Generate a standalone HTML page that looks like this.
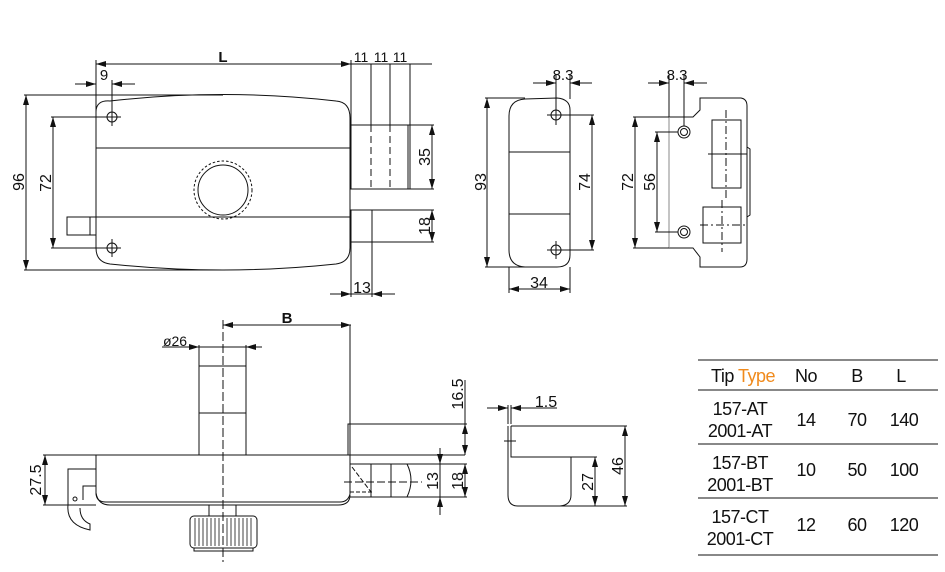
<!DOCTYPE html>
<html><head><meta charset="utf-8"><style>
html,body{margin:0;padding:0;background:#fff;}
svg{display:block;}
text{font-family:"Liberation Sans",sans-serif;fill:#111;}
</style></head><body>
<svg width="945" height="572" viewBox="0 0 945 572" xmlns="http://www.w3.org/2000/svg">
<defs>
<marker id="a" viewBox="0 0 10 6" refX="10" refY="3" markerWidth="10" markerHeight="6" orient="auto-start-reverse" markerUnits="userSpaceOnUse"><path d="M0,0 L10,3 L0,6z" fill="#111"/></marker>
</defs>
<g stroke="#111" stroke-width="1" fill="none">
<!-- TOP LEFT VIEW -->
<path d="M96,112 Q96,100 110,101 Q223,88 336,101 Q350,102 350,118 L350,248 Q350,262 336,264 Q223,276 110,264 Q96,262 96,248 Z"/>
<line x1="96" y1="148" x2="350" y2="148"/>
<line x1="96" y1="217" x2="350" y2="217"/>
<circle cx="223" cy="190" r="25"/>
<circle cx="223" cy="190" r="29" stroke-dasharray="2.5 2"/>
<circle cx="112" cy="117" r="5"/><line x1="112" y1="108" x2="112" y2="126"/><line x1="104" y1="117" x2="121" y2="117"/>
<circle cx="112" cy="248" r="5"/><line x1="112" y1="239" x2="112" y2="257"/><line x1="104" y1="248" x2="121" y2="248"/>
<rect x="67" y="217" width="29" height="18"/><line x1="90" y1="217" x2="90" y2="235"/>
<rect x="351" y="125" width="59" height="64"/><line x1="408" y1="125" x2="408" y2="189"/>
<line x1="371" y1="125" x2="371" y2="189" stroke-dasharray="7 4"/>
<line x1="390" y1="125" x2="390" y2="189" stroke-dasharray="7 4"/>
<rect x="351" y="210" width="21" height="32"/>
<line x1="372" y1="242" x2="372" y2="297"/><line x1="351" y1="242" x2="351" y2="297"/>
<!-- dims top -->
<line x1="96" y1="64" x2="351" y2="64" marker-start="url(#a)" marker-end="url(#a)"/>
<line x1="351" y1="64" x2="432" y2="64"/>
<line x1="96" y1="60" x2="96" y2="112"/>
<line x1="351" y1="60" x2="351" y2="125"/><line x1="371" y1="64" x2="371" y2="125"/><line x1="390" y1="64" x2="390" y2="125"/><line x1="410" y1="64" x2="410" y2="125"/>
<line x1="75" y1="84" x2="96" y2="84" marker-end="url(#a)"/><line x1="135" y1="84" x2="112" y2="84" marker-end="url(#a)"/>
<line x1="112" y1="80" x2="112" y2="126"/>
<line x1="24" y1="95" x2="223" y2="95"/><line x1="24" y1="270" x2="223" y2="270"/>
<line x1="26" y1="95" x2="26" y2="270" marker-start="url(#a)" marker-end="url(#a)"/>
<line x1="51" y1="117" x2="112" y2="117"/><line x1="51" y1="248" x2="112" y2="248"/>
<line x1="53" y1="117" x2="53" y2="248" marker-start="url(#a)" marker-end="url(#a)"/>
<line x1="410" y1="125" x2="434" y2="125"/><line x1="410" y1="189" x2="434" y2="189"/>
<line x1="432" y1="125" x2="432" y2="189" marker-start="url(#a)" marker-end="url(#a)"/>
<line x1="372" y1="210" x2="434" y2="210"/><line x1="372" y1="242" x2="434" y2="242"/>
<line x1="432" y1="210" x2="432" y2="242" marker-start="url(#a)" marker-end="url(#a)"/>
<line x1="330" y1="294" x2="351" y2="294" marker-end="url(#a)"/><line x1="395" y1="294" x2="372" y2="294" marker-end="url(#a)"/><line x1="351" y1="294" x2="372" y2="294"/>
<!-- MIDDLE VIEW -->
<path d="M509,116 Q509,100 525,99 L557,98 Q570,99 570,110 L570,255 Q570,267 557,267 L525,267 Q509,266 509,250 Z"/>
<line x1="509" y1="152" x2="570" y2="152"/><line x1="509" y1="214" x2="570" y2="214"/>
<circle cx="556" cy="115" r="5"/><line x1="556" y1="75" x2="556" y2="125"/><line x1="547" y1="115" x2="594" y2="115"/>
<circle cx="556" cy="250" r="5"/><line x1="556" y1="241" x2="556" y2="259"/><line x1="547" y1="250" x2="594" y2="250"/>
<line x1="570" y1="75" x2="570" y2="99"/>
<line x1="533" y1="83" x2="556" y2="83" marker-end="url(#a)"/><line x1="592" y1="83" x2="570" y2="83" marker-end="url(#a)"/>
<line x1="485" y1="98" x2="525" y2="98"/><line x1="485" y1="267" x2="525" y2="267"/>
<line x1="487" y1="98" x2="487" y2="267" marker-start="url(#a)" marker-end="url(#a)"/>
<line x1="592" y1="115" x2="592" y2="250" marker-start="url(#a)" marker-end="url(#a)"/>
<line x1="509" y1="267" x2="509" y2="293"/><line x1="570" y1="267" x2="570" y2="293"/>
<line x1="509" y1="289" x2="570" y2="289" marker-start="url(#a)" marker-end="url(#a)"/>
<!-- RIGHT VIEW -->
<path d="M669,117 L693,117 L700,110 L700,98 L741,98 Q747,99 747,106 L747,259 Q747,267 740,267 L700,267 L700,257 L693,248 L669,248"/>
<line x1="669" y1="117" x2="669" y2="248" stroke="#888"/>
<path d="M747,147 L750,149 L750,215 L747,217"/>
<circle cx="684" cy="132" r="6"/><circle cx="684" cy="132" r="3.5"/>
<circle cx="684" cy="232" r="6"/><circle cx="684" cy="232" r="3.5"/>
<rect x="712" y="120" width="29" height="68"/>
<line x1="726" y1="110" x2="726" y2="198" stroke-dasharray="8 3 2 3"/><line x1="708" y1="154" x2="747" y2="154"/>
<rect x="703" y="207" width="38" height="36"/>
<line x1="722" y1="200" x2="722" y2="252" stroke-dasharray="8 3 2 3"/><line x1="700" y1="225" x2="745" y2="225" stroke-dasharray="8 3 2 3"/>
<line x1="669" y1="75" x2="669" y2="117"/><line x1="684" y1="75" x2="684" y2="126"/>
<line x1="648" y1="83" x2="669" y2="83" marker-end="url(#a)"/><line x1="707" y1="83" x2="684" y2="83" marker-end="url(#a)"/>
<line x1="633" y1="117" x2="669" y2="117"/><line x1="633" y1="248" x2="669" y2="248"/>
<line x1="635" y1="117" x2="635" y2="248" marker-start="url(#a)" marker-end="url(#a)"/>
<line x1="655" y1="132" x2="678" y2="132"/><line x1="655" y1="232" x2="678" y2="232"/>
<line x1="657" y1="132" x2="657" y2="232" marker-start="url(#a)" marker-end="url(#a)"/>
<!-- BOTTOM LEFT VIEW -->
<line x1="223" y1="325" x2="351" y2="325" marker-start="url(#a)" marker-end="url(#a)"/>
<line x1="223" y1="320" x2="223" y2="562" stroke-dasharray="9 3"/>
<line x1="350" y1="325" x2="350" y2="455"/>
<line x1="162" y1="347" x2="199" y2="347" marker-end="url(#a)"/><line x1="262" y1="347" x2="246" y2="347" marker-end="url(#a)"/><line x1="199" y1="347" x2="246" y2="347"/>
<line x1="199" y1="345" x2="199" y2="366"/><line x1="246" y1="345" x2="246" y2="366"/>
<rect x="199" y="366" width="47" height="89"/><line x1="199" y1="413" x2="246" y2="413"/>
<line x1="43" y1="455" x2="465" y2="455"/>
<path d="M96,455 L96,493 Q96,502 106,502 L340,502 Q348,502 350,494 L350,455"/>
<path d="M96,493 Q98,505 110,505 L338,505 Q350,505 350,495"/>
<path d="M348,455 L348,424 L350,424 M350,424 L467,424"/>
<path d="M350,464 L467,464 M350,497 L467,497"/>
<line x1="350" y1="492" x2="372" y2="492" stroke-dasharray="4 2"/>
<line x1="371" y1="464" x2="371" y2="497"/><line x1="391" y1="464" x2="391" y2="497"/>
<path d="M407,464 Q415,480 407,497"/>
<line x1="352" y1="467" x2="371" y2="492" stroke-dasharray="5 2"/>
<line x1="344" y1="482" x2="422" y2="482" stroke-dasharray="8 3"/>
<line x1="440" y1="448" x2="440" y2="464" marker-end="url(#a)"/><line x1="440" y1="515" x2="440" y2="497" marker-end="url(#a)"/><line x1="440" y1="464" x2="440" y2="497"/>
<line x1="465" y1="464" x2="465" y2="497" marker-start="url(#a)" marker-end="url(#a)"/>
<line x1="465" y1="380" x2="465" y2="455"/>
<line x1="465" y1="424" x2="465" y2="455" marker-start="url(#a)" marker-end="url(#a)"/>
<line x1="43" y1="505" x2="96" y2="505"/>
<line x1="45" y1="455" x2="45" y2="505" marker-start="url(#a)" marker-end="url(#a)"/>
<path d="M96,469 L68,469 L68,505 M96,486 L83,486 L83,500"/>
<circle cx="75" cy="499" r="2"/>
<path d="M68,505 Q66,525 90,530 L90,524 Q80,520 80,508"/>
<rect x="209" y="505" width="27" height="11"/>
<rect x="190" y="516" width="67" height="32" rx="4"/>
<path d="M194,548 L194,551 L253,551 L253,548"/>
<g stroke-width="0.8">
<line x1="195" y1="518" x2="195" y2="546"/><line x1="199" y1="518" x2="199" y2="546"/><line x1="203" y1="518" x2="203" y2="546"/><line x1="207" y1="518" x2="207" y2="546"/><line x1="211" y1="518" x2="211" y2="546"/><line x1="215" y1="518" x2="215" y2="546"/><line x1="219" y1="518" x2="219" y2="546"/><line x1="227" y1="518" x2="227" y2="546"/><line x1="231" y1="518" x2="231" y2="546"/><line x1="235" y1="518" x2="235" y2="546"/><line x1="239" y1="518" x2="239" y2="546"/><line x1="243" y1="518" x2="243" y2="546"/><line x1="247" y1="518" x2="247" y2="546"/><line x1="251" y1="518" x2="251" y2="546"/>
</g>
<!-- PROFILE -->
<line x1="487" y1="408" x2="508" y2="408" marker-end="url(#a)"/><line x1="523" y1="408" x2="511" y2="408" marker-end="url(#a)"/><line x1="511" y1="408" x2="557" y2="408"/>
<line x1="508" y1="405" x2="508" y2="424"/><line x1="511" y1="405" x2="511" y2="424"/>
<path d="M511,426 L627,426 M508,426 L508,495 Q508,506 518,506 L560,506 Q571,505 571,495 L571,457 L511,457 L511,426"/>
<line x1="504" y1="441" x2="516" y2="441"/>
<line x1="571" y1="457" x2="597" y2="457"/><line x1="560" y1="506" x2="627" y2="506"/>
<line x1="595" y1="457" x2="595" y2="506" marker-start="url(#a)" marker-end="url(#a)"/>
<line x1="625" y1="426" x2="625" y2="506" marker-start="url(#a)" marker-end="url(#a)"/>
<!-- TABLE -->
<line x1="698" y1="360" x2="938" y2="360"/><line x1="698" y1="390" x2="938" y2="390"/><line x1="698" y1="444" x2="938" y2="444"/><line x1="698" y1="498" x2="938" y2="498"/><line x1="698" y1="555" x2="938" y2="555"/>
</g>
<g font-size="16">
<text x="223" y="62" text-anchor="middle" font-weight="bold" font-size="15">L</text>
<text x="361" y="62" text-anchor="middle" font-size="14">11</text><text x="381" y="62" text-anchor="middle" font-size="14">11</text><text x="400" y="62" text-anchor="middle" font-size="14">11</text>
<text x="104" y="80" text-anchor="middle" font-size="15">9</text>
<text transform="translate(24,182) rotate(-90)" text-anchor="middle">96</text>
<text transform="translate(51,183) rotate(-90)" text-anchor="middle">72</text>
<text transform="translate(430,157) rotate(-90)" text-anchor="middle">35</text>
<text transform="translate(430,226) rotate(-90)" text-anchor="middle">18</text>
<text x="362" y="293" text-anchor="middle">13</text>
<text x="563" y="80" text-anchor="middle" font-size="15">8.3</text>
<text transform="translate(486,182) rotate(-90)" text-anchor="middle">93</text>
<text transform="translate(590,182) rotate(-90)" text-anchor="middle">74</text>
<text x="539" y="288" text-anchor="middle">34</text>
<text x="677" y="80" text-anchor="middle" font-size="15">8.3</text>
<text transform="translate(633,182) rotate(-90)" text-anchor="middle">72</text>
<text transform="translate(655,182) rotate(-90)" text-anchor="middle">56</text>
<text x="287" y="323" text-anchor="middle" font-weight="bold" font-size="15">B</text>
<text x="175" y="346" text-anchor="middle" font-size="14">ø26</text>
<text transform="translate(463,394) rotate(-90)" text-anchor="middle">16.5</text>
<text transform="translate(438,481) rotate(-90)" text-anchor="middle">13</text>
<text transform="translate(463,481) rotate(-90)" text-anchor="middle">18</text>
<text transform="translate(41,480) rotate(-90)" text-anchor="middle">27.5</text>
<text x="546" y="407" text-anchor="middle">1.5</text>
<text transform="translate(593,482) rotate(-90)" text-anchor="middle">27</text>
<text transform="translate(623,466) rotate(-90)" text-anchor="middle">46</text>
</g>
<g font-size="18" style="letter-spacing:-0.5px">
<text x="711" y="382">Tip <tspan fill="#f08a1c">Type</tspan></text>
<text x="806" y="382" text-anchor="middle">No</text>
<text x="857" y="382" text-anchor="middle">B</text>
<text x="901" y="382" text-anchor="middle">L</text>
<text x="740" y="415" text-anchor="middle">157-AT</text><text x="740" y="437" text-anchor="middle">2001-AT</text>
<text x="806" y="426" text-anchor="middle">14</text><text x="857" y="426" text-anchor="middle">70</text><text x="904" y="426" text-anchor="middle">140</text>
<text x="740" y="469" text-anchor="middle">157-BT</text><text x="740" y="491" text-anchor="middle">2001-BT</text>
<text x="806" y="476" text-anchor="middle">10</text><text x="857" y="476" text-anchor="middle">50</text><text x="904" y="476" text-anchor="middle">100</text>
<text x="740" y="523" text-anchor="middle">157-CT</text><text x="740" y="545" text-anchor="middle">2001-CT</text>
<text x="806" y="531" text-anchor="middle">12</text><text x="857" y="531" text-anchor="middle">60</text><text x="904" y="531" text-anchor="middle">120</text>
</g>
</svg>
</body></html>
